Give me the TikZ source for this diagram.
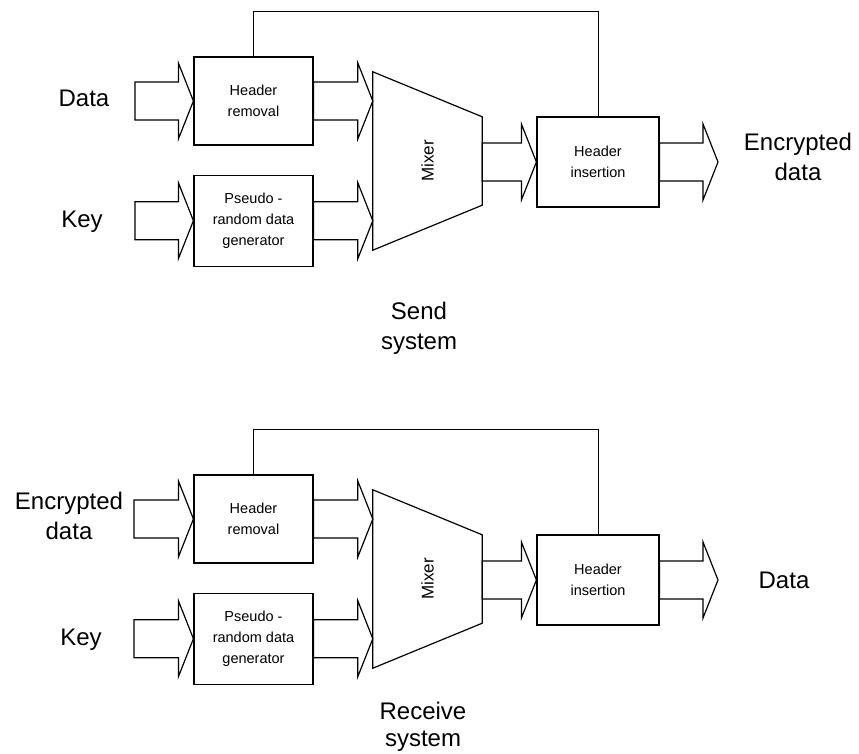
\documentclass[tikz,border=0pt]{standalone}
\usepackage{fontspec}
\setmainfont{Liberation Sans}
\usetikzlibrary{positioning,calc}
\tikzset{
  blk/.style={draw, line width=1.2pt, align=center, inner sep=1pt,
              font=\fontsize{14.5}{21}\selectfont},
  mixbox/.style={minimum width=109pt, minimum height=178pt, inner sep=0pt,
                 font=\fontsize{17}{20}\selectfont},
  mixline/.style={draw, line width=1.2pt, line join=miter},
  fat/.style={draw, line width=1.2pt, line join=miter, to path={
      let \p1=(\tikztostart), \p2=(\tikztotarget) in
      (\x1,\y2+19pt) -- (\x2-15pt,\y2+19pt) -- (\x2-15pt,\y2+38pt) -- (\p2)
      -- (\x2-15pt,\y2-38pt) -- (\x2-15pt,\y2-19pt) -- (\x1,\y2-19pt) -- cycle}},
  fb/.style={draw, line width=0.9pt},
  lbl/.style={align=center, inner sep=0pt, font=\fontsize{24}{30}\selectfont}
}
\begin{document}
\begin{tikzpicture}[x=1pt, y=-1pt]
  \useasboundingbox (0,0) rectangle (859,754);
  % send system
  \node[blk, minimum width=119pt, minimum height=88pt] (rem) at (253.5,101) {Header\\removal};
  \node[blk, minimum width=119pt, minimum height=91pt, below=29pt of rem] (prng) {Pseudo -\\random data\\generator};
  \node[mixbox] (mix) at (427.5,161) {\rotatebox{90}{Mixer}};
  \draw[mixline] (mix.north west) -- ([yshift=-45pt]mix.north east)
    -- ([yshift=45pt]mix.south east) -- (mix.south west) -- cycle;
  \node[blk, minimum width=122pt, minimum height=90pt] (ins) at (598,162) {Header\\insertion};
  \coordinate (din) at (135,100);
  \coordinate (kin) at (135,219);
  \coordinate (dout) at (718,162);
  \draw[fat] (din) to (rem.west);
  \draw[fat] (kin) to (prng.west);
  \draw[fat] (rem.east) to (mix.west |- rem.east);
  \draw[fat] (prng.east) to (mix.west |- prng.east);
  \draw[fat] (mix.east |- ins.west) to (ins.west);
  \draw[fat] (ins.east) to (dout);
  \draw[fb] (rem.north) -- ++(0,-45) -| (ins.north);
  \node[lbl, anchor=base] (data) at (84,107) {Data};
  \node[lbl, anchor=base] (key) at (82,227) {Key};
  \node[lbl, anchor=north] (enc) at (798,133) {Encrypted\\data};
  \node[lbl, anchor=north] (send) at (419,302) {Send\\system};
  % receive system
  \begin{scope}[yshift=-418pt]
    \node[blk, minimum width=119pt, minimum height=88pt] (rem2) at (253.5,101) {Header\\removal};
    \node[blk, minimum width=119pt, minimum height=91pt, below=29pt of rem2] (prng2) {Pseudo -\\random data\\generator};
    \node[mixbox] (mix2) at (427.5,161) {\rotatebox{90}{Mixer}};
    \draw[mixline] (mix2.north west) -- ([yshift=-45pt]mix2.north east)
      -- ([yshift=45pt]mix2.south east) -- (mix2.south west) -- cycle;
    \node[blk, minimum width=122pt, minimum height=90pt] (ins2) at (598,162) {Header\\insertion};
    \coordinate (din2) at (134,100);
    \coordinate (kin2) at (134,219);
    \coordinate (dout2) at (718,162);
    \draw[fat] (din2) to (rem2.west);
    \draw[fat] (kin2) to (prng2.west);
    \draw[fat] (rem2.east) to (mix2.west |- rem2.east);
    \draw[fat] (prng2.east) to (mix2.west |- prng2.east);
    \draw[fat] (mix2.east |- ins2.west) to (ins2.west);
    \draw[fat] (ins2.east) to (dout2);
    \draw[fb] (rem2.north) -- ++(0,-45) -| (ins2.north);
    \node[lbl, anchor=north] (enc2) at (69,74) {Encrypted\\data};
    \node[lbl, anchor=base] (key2) at (81,227) {Key};
    \node[lbl, anchor=base] (data2) at (784,170) {Data};
    \node[lbl, anchor=north, font=\fontsize{24}{27}\selectfont] (recv) at (423,284) {Receive\\system};
  \end{scope}
\end{tikzpicture}
\end{document}
